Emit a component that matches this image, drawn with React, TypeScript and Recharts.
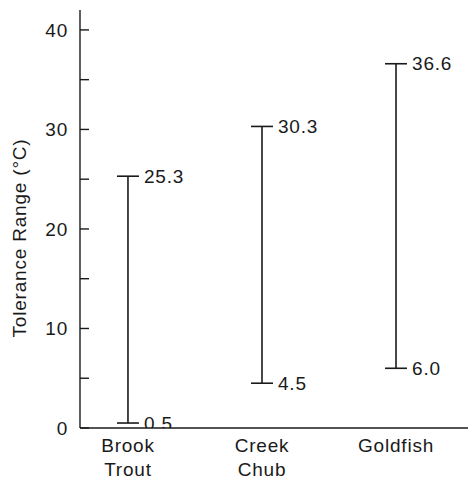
import React from 'react';
import { ComposedChart, Bar, XAxis, YAxis, Label } from 'recharts';

const species = ['Brook Trout', 'Creek Chub', 'Goldfish'];
const lowTemps = [0.5, 4.5, 6.0];
const highTemps = [25.3, 30.3, 36.6];
const yTicks = [0, 5, 10, 15, 20, 25, 30, 35, 40];
const xPositions = [1, 2, 3];

const data = species.map((name, i) => ({
  pos: xPositions[i],
  name,
  low: lowTemps[i],
  high: highTemps[i],
  range: [lowTemps[i], highTemps[i]],
}));

const INK = '#1a1a1a';
const FONT = '"Liberation Sans", Arial, sans-serif';
const FS = 19;
const LS = 0.8;

const RangeShape = (props: any) => {
  const { x, y, width, height, payload } = props;
  const cx = x + width / 2;
  const top = y;
  const bottom = y + height;
  const half = 11;
  return (
    <g>
      <line x1={cx} y1={top} x2={cx} y2={bottom} stroke={INK} strokeWidth={1.6} />
      <line x1={cx - half} y1={top} x2={cx + half} y2={top} stroke={INK} strokeWidth={1.6} />
      <line x1={cx - half} y1={bottom} x2={cx + half} y2={bottom} stroke={INK} strokeWidth={1.6} />
      <text x={cx + half + 5} y={top} dy="0.35em" fontSize={FS} letterSpacing={LS} fontFamily={FONT} fill={INK}>
        {payload.high.toFixed(1)}
      </text>
      <text x={cx + half + 5} y={bottom} dy="0.35em" fontSize={FS} letterSpacing={LS} fontFamily={FONT} fill={INK}>
        {payload.low.toFixed(1)}
      </text>
    </g>
  );
};

const YTick = (props: any) => {
  const { x, y, payload } = props;
  const major = payload.value % 10 === 0;
  return (
    <g>
      <line x1={x} y1={y} x2={x + 9} y2={y} stroke={INK} strokeWidth={1.4} />
      {major && (
        <text x={x - 12} y={y} dy="0.35em" textAnchor="end" fontSize={FS} letterSpacing={LS} fontFamily={FONT} fill={INK}>
          {payload.value}
        </text>
      )}
    </g>
  );
};

const XTick = (props: any) => {
  const { x, y, payload } = props;
  const idx = xPositions.indexOf(payload.value);
  if (idx < 0) return null;
  const words = species[idx].split(' ');
  return (
    <text x={x} y={y} textAnchor="middle" fontSize={FS} letterSpacing={LS} fontFamily={FONT} fill={INK}>
      {words.map((w, i) => (
        <tspan key={i} x={x} dy={24}>
          {w}
        </tspan>
      ))}
    </text>
  );
};

const App: React.FC = () => {
  return (
    <div style={{ position: 'fixed', left: 0, top: 0, background: '#fff' }}>
      <ComposedChart
        width={468}
        height={479}
        data={data}
        margin={{ top: 10, right: 0, bottom: 1, left: 0 }}
      >
        <XAxis
          dataKey="pos"
          type="number"
          domain={[0.642, 3.537]}
          ticks={xPositions}
          tickLine={false}
          tickSize={0}
          tickMargin={0}
          tick={<XTick />}
          axisLine={{ stroke: INK, strokeWidth: 1.4 }}
          height={50}
          allowDataOverflow
        />
        <YAxis
          type="number"
          domain={[0, 42]}
          ticks={yTicks}
          tickLine={false}
          tickSize={0}
          tickMargin={0}
          tick={<YTick />}
          axisLine={{ stroke: INK, strokeWidth: 1.4 }}
          width={80}
          interval={0}
          allowDataOverflow
        >
          <Label
            content={() => (
              <text
                x={19}
                y={238}
                transform="rotate(-90 19 238)"
                textAnchor="middle"
                dy="0.35em"
                fontSize={FS}
                letterSpacing={LS}
                fontFamily={FONT}
                fill={INK}
              >
                Tolerance Range (°C)
              </text>
            )}
          />
        </YAxis>
        <Bar dataKey="range" barSize={22} shape={<RangeShape />} isAnimationActive={false} />
      </ComposedChart>
    </div>
  );
};

export default App;
